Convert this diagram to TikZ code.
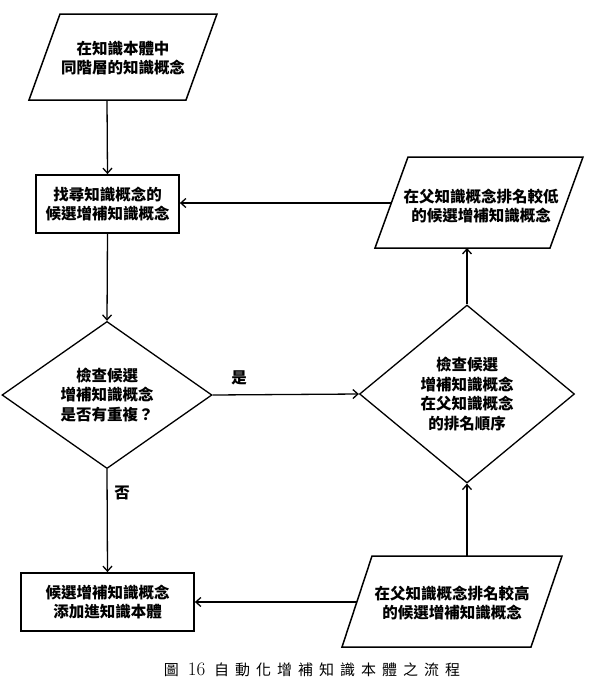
\documentclass[tikz,border=0pt]{standalone}
\usepackage{fontspec}
\newfontfamily\cjk{Noto Sans CJK TC}
\usetikzlibrary{shapes.geometric,arrows.meta}
\newcommand{\cgap}{\hspace{6pt}}
\begin{document}
\begin{tikzpicture}[x=1pt,y=-1pt,
  txt/.style={font=\cjk\bfseries\fontsize{15.5}{19.5}\selectfont, align=center, inner sep=0pt},
  box/.style={draw, rectangle, line width=1.8pt, minimum height=58pt, txt},
  dia/.style={draw, diamond, line width=1.3pt, txt},
  pline/.style={line width=1.5pt, line join=miter},
  arr/.style={-{Straight Barb[length=5pt,width=9pt]}, line width=1.3pt},
  lbl/.style={font=\cjk\bfseries\fontsize{15.5}{15.5}\selectfont, inner sep=0pt}]
\useasboundingbox (0,0) rectangle (590,689);

% top parallelogram
\draw[pline] (60,14) -- (217,14) -- (186,100) -- (29,100) -- cycle;
\node[txt] (p1) at (123,58) {在知識本體中\\同階層的知識概念};
\coordinate (p1b) at (107,100);

% rect 1
\node[box, minimum width=143pt] (r1) at (107.5,204) {找尋知識概念的\\候選增補知識概念};

% diamond 1
\node[dia, minimum width=210pt, minimum height=143pt, inner sep=0pt] (d1) at (107,395) {檢查候選\\增補知識概念\\是否有重複？};

% diamond 2
\node[dia, minimum width=215pt, minimum height=178pt, inner sep=0pt] (d2) at (467,394) {檢查候選\\增補知識概念\\在父知識概念\\的排名順序};

% right parallelogram
\draw[pline] (408,157) -- (583,157) -- (550,248) -- (375,248) -- cycle;
\node[txt] (p2) at (481,206) {在父知識概念排名較低\\的候選增補知識概念};
\coordinate (p2b) at (467,248);
\coordinate (p2l) at (391,203);

% rect 2
\node[box, minimum width=173pt] (r2) at (107.5,602) {候選增補知識概念\\添加進知識本體};

% bottom parallelogram
\draw[pline] (372,556) -- (562,556) -- (531,647) -- (342,647) -- cycle;
\node[txt] (p3) at (452,603) {在父知識概念排名較高\\的候選增補知識概念};
\coordinate (p3t) at (467,556);
\coordinate (p3l) at (357,602);

% connectors
\draw[arr] (p1b) -- (r1.north);
\draw[arr] (r1.south) -- (d1.north);
\draw[arr] (d1.east) -- (d2.west);
\node[lbl] (yes) at (239,378) {是};
\draw[arr] (d1.south) -- (r2.north);
\node[lbl] (no) at (122,493) {否};
\draw[arr] (d2.north) -- (p2b);
\draw[arr] (p2l) -- (p2l -| r1.east);
\draw[arr] (p3t) -- (d2.south);
\draw[arr] (p3l) -- (p3l -| r2.east);

% caption
\node[font=\cjk\fontsize{15}{16}\selectfont, inner sep=0pt] (cap) at (312,670)
  {圖\hspace{9pt}{\rmfamily\fontsize{19}{19}\selectfont 16}\hspace{9pt}自\cgap 動\cgap 化\cgap 增\cgap 補\cgap 知\cgap 識\cgap 本\cgap 體\cgap 之\cgap 流\cgap 程};
\end{tikzpicture}
\end{document}
